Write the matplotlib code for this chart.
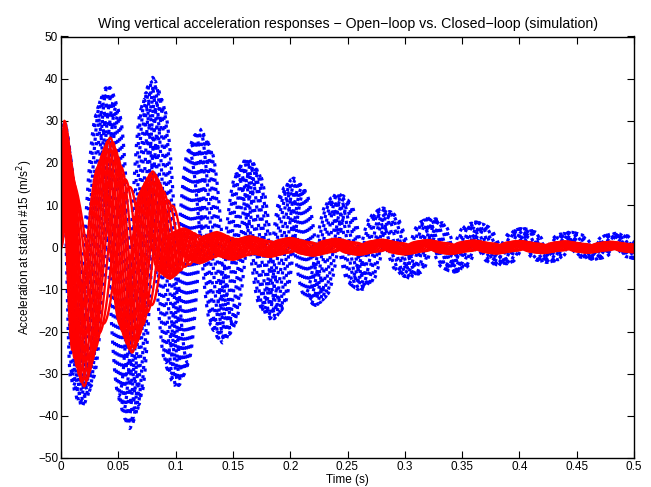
import numpy as np
import matplotlib
matplotlib.use("Agg")
import matplotlib.pyplot as plt

plt.rcParams['font.family'] = ['Liberation Sans', 'DejaVu Sans']

# ---- data (extrema of the outermost trace) ----
blue_t = [0, 0.003, 0.018, 0.041, 0.060, 0.080, 0.101, 0.121, 0.141, 0.163,
          0.184, 0.203, 0.222, 0.242, 0.261, 0.281, 0.304, 0.323, 0.343, 0.362,
          0.383, 0.403, 0.424, 0.444, 0.464, 0.484, 0.504, 0.524]
blue_v = [0, 30, -38, 38.6, -43, 40.3, -33.4, 28.1, -22.7, 21.3,
          -17.3, 16.4, -13.8, 12.9, -10.2, 9.3, -7.3, 7.1, -5.9, 6.0,
          -4.3, 4.5, -3.6, 3.6, -2.9, 3.3, -2.8, 2.5]
# per-trace phase offsets (s) and gains of the open-loop family
blue_shift = [-0.0095, -0.0076, -0.0057, -0.0038, -0.0019, 0.0, 0.0019,
              0.0038, 0.0057, 0.0076, 0.0095]
blue_gain = [0.82, 0.87, 0.91, 0.95, 0.98, 1.00, 0.98, 0.95, 0.91, 0.87, 0.82]

red_t = [0, 0.003, 0.020, 0.043, 0.062, 0.080, 0.095, 0.107, 0.121, 0.136,
         0.150, 0.165, 0.182, 0.200, 0.220, 0.240, 0.260, 0.280, 0.300, 0.320,
         0.340, 0.360, 0.380, 0.400, 0.420, 0.440, 0.460, 0.480, 0.500, 0.520]
red_v = [0, 30, -33, 26, -25, 18, -7.5, 4.5, -3.8, 3.6,
         -3.0, 2.6, -2.3, 2.2, -2.0, 2.0, -1.8, 1.8, -1.7, 1.7,
         -1.6, 1.6, -1.5, 1.5, -1.4, 1.4, -1.3, 1.3, -1.2, 1.2]
red_shift = [-0.010, -0.008, -0.006, -0.004, -0.002, 0.0,
             0.002, 0.004, 0.006, 0.009, 0.013, 0.017]
red_gain = [0.74, 0.80, 0.86, 0.92, 0.97, 1.00, 0.96, 0.90, 0.83, 0.74, 0.62, 0.55]

x_ticks = [0, 0.05, 0.1, 0.15, 0.2, 0.25, 0.3, 0.35, 0.4, 0.45, 0.5]
y_ticks = [-50, -40, -30, -20, -10, 0, 10, 20, 30, 40, 50]


def trace(tk, vk, shift, gain, ramp):
    tk = np.asarray(tk, float)
    vk = np.asarray(vk, float) * gain
    tk = tk + shift * np.minimum(1.0, tk / ramp)
    ts, vs = [], []
    for i in range(len(tk) - 1):
        s = np.linspace(0, 1, 30, endpoint=False)
        ts.append(tk[i] + s * (tk[i + 1] - tk[i]))
        vs.append(vk[i] + (vk[i + 1] - vk[i]) * (1 - np.cos(np.pi * s)) / 2)
    ts.append([tk[-1]]); vs.append([vk[-1]])
    return np.concatenate(ts), np.concatenate(vs)


fig = plt.figure(figsize=(6.51, 4.87), dpi=100)
ax = fig.add_axes([61 / 651, 1 - 458 / 487, 573 / 651, 421.5 / 487])

for sh, g in zip(blue_shift, blue_gain):
    t, v = trace(blue_t, blue_v, sh, g, 0.015)
    ax.plot(t, v, color='#0000ff', linestyle=(0, (1, 1.9)), linewidth=2.3)

for sh, g in zip(red_shift, red_gain):
    t, v = trace(red_t, red_v, sh, g, 0.01)
    ax.plot(t, v, color='#ff0000', linestyle='-', linewidth=1.7)

ax.set_xlim(0, 0.5)
ax.set_ylim(-50, 50)
ax.set_xticks(x_ticks)
ax.set_xticklabels([f"{x:g}" for x in x_ticks])
ax.set_yticks(y_ticks)
ax.tick_params(direction='in', top=True, right=True, length=5, labelsize=8.5,
               width=0.8, pad=2)
for sp in ax.spines.values():
    sp.set_linewidth(1.0)
ax.set_title("Wing vertical acceleration responses \u2212 Open\u2212loop vs. Closed\u2212loop (simulation)",
             fontsize=10.2, pad=6)
ax.set_xlabel("Time (s)", fontsize=8.5, labelpad=1)
ax.set_ylabel("Acceleration at station #15 (m/s$^2$)", fontsize=8.5, labelpad=2)

fig.savefig("out.png", dpi=100)
